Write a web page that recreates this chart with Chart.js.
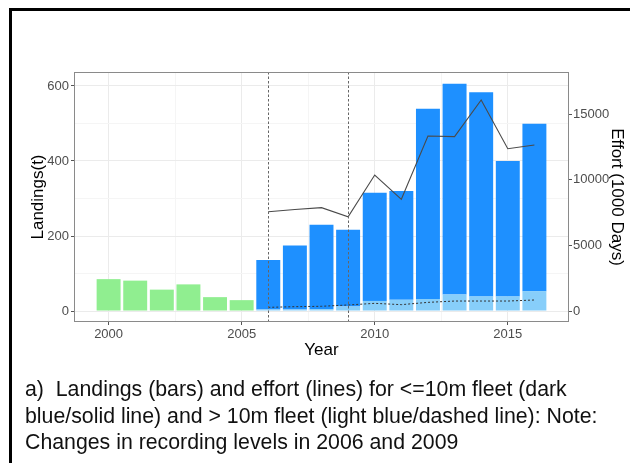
<!DOCTYPE html>
<html>
<head>
<meta charset="utf-8">
<script src="https://cdn.jsdelivr.net/npm/chart.js@4.4.1/dist/chart.umd.min.js"></script>
<style>
  html, body { margin: 0; padding: 0; background: #fff; }
  #wrap { position: relative; width: 630px; height: 463px; overflow: hidden; }
  #frame { position: absolute; left: 9px; top: 8px; width: 700px; height: 500px;
           border-left: 3px solid #000; border-top: 3px solid #000; }
  #chartBox { position: absolute; left: 0; top: 0; width: 630px; height: 463px; }
  #caption { position: absolute; left: 25px; top: 376px; font-family: "Liberation Sans", Arial, sans-serif;
             font-size: 21.3px; line-height: 26.7px; color: #111; white-space: pre; }
</style>
</head>
<body>
<div id="wrap">
  <div id="frame"></div>
  <div id="chartBox"><canvas id="chart" width="630" height="463"></canvas></div>
  <div id="caption">a)  Landings (bars) and effort (lines) for &lt;=10m fleet (dark
blue/solid line) and &gt; 10m fleet (light blue/dashed line): Note:
Changes in recording levels in 2006 and 2009</div>
</div>
<script>
// landings before the fleet split
const preYears = [2000, 2001, 2002, 2003, 2004, 2005];
const preLandings = [85, 81, 57, 71, 37, 29];

// fleet split from 2006
const fleetYears = [2006, 2007, 2008, 2009, 2010, 2011, 2012, 2013, 2014, 2015, 2016];
const over10Landings = [4, 4, 5, 12, 27, 30, 32, 44, 39, 39, 53];
const under10Landings = [132, 171, 225, 205, 288, 290, 507, 562, 544, 361, 446];
const under10Effort = [7570, 7740, 7880, 7180, 10370, 8520, 13350, 13300, 16090, 12380, 12660];
const over10Effort = [280, 330, 360, 460, 585, 485, 660, 760, 760, 760, 840];

const changeYears = [2006, 2009];

// axis ticks
const xMajorTicks = [2000, 2005, 2010, 2015];
const xMinorTicks = [2002.5, 2007.5, 2012.5];
const yMajorTicks = [0, 200, 400, 600];
const yMinorTicks = [100, 300, 500];
const y2Ticks = [0, 5000, 10000, 15000];

const toPoints = (xs, ys) => xs.map((x, i) => ({ x: x, y: ys[i] }));
const isIn = (list, c) => !!(c.tick && list.includes(c.tick.value));

const tickFont = { family: 'Liberation Sans, Arial, sans-serif', size: 13 };
const titleFont = { family: 'Liberation Sans, Arial, sans-serif', size: 17 };

// panel border + change-year reference lines
const panelPlugin = {
    id: 'panel',
    afterDatasetsDraw(chart) {
        const ctx = chart.ctx;
        const area = chart.chartArea;
        const x = chart.scales.x;
        ctx.save();
        ctx.strokeStyle = '#666';
        ctx.lineWidth = 1;
        ctx.setLineDash([2.5, 2]);
        changeYears.forEach(yr => {
            const px = Math.round(x.getPixelForValue(yr)) + 0.5;
            ctx.beginPath();
            ctx.moveTo(px, area.top);
            ctx.lineTo(px, area.bottom);
            ctx.stroke();
        });
        ctx.setLineDash([]);
        ctx.strokeStyle = '#8a8a8a';
        ctx.strokeRect(area.left + 0.5, area.top + 0.5, area.right - area.left - 1, area.bottom - area.top - 1);
        ctx.restore();
    }
};

new Chart(document.getElementById('chart'), {
    type: 'bar',
    data: {
        datasets: [
            {
                type: 'line',
                label: '<=10m effort',
                data: toPoints(fleetYears, under10Effort),
                yAxisID: 'y2',
                borderColor: '#4a4a4a',
                borderWidth: 1.1,
                pointRadius: 0,
                fill: false,
                tension: 0,
                order: 0
            },
            {
                type: 'line',
                label: '>10m effort',
                data: toPoints(fleetYears, over10Effort),
                yAxisID: 'y2',
                borderColor: '#333',
                borderWidth: 1,
                borderDash: [2, 2],
                pointRadius: 0,
                fill: false,
                tension: 0,
                order: 0
            },
            {
                label: 'Landings',
                data: toPoints(preYears, preLandings),
                backgroundColor: '#90EE90',
                yAxisID: 'y',
                order: 1
            },
            {
                label: '>10m landings',
                data: toPoints(fleetYears, over10Landings),
                backgroundColor: '#87CEFA',
                yAxisID: 'y',
                order: 1
            },
            {
                label: '<=10m landings',
                data: toPoints(fleetYears, under10Landings),
                backgroundColor: '#1E90FF',
                yAxisID: 'y',
                order: 1
            }
        ]
    },
    options: {
        responsive: false,
        animation: false,
        barPercentage: 0.9,
        categoryPercentage: 1,
        layout: { padding: { left: 28, right: 3, top: 72, bottom: 102 } },
        plugins: {
            legend: { display: false },
            tooltip: { enabled: false }
        },
        scales: {
            x: {
                type: 'linear',
                min: 1998.7,
                max: 2017.3,
                offset: false,
                stacked: true,
                afterBuildTicks: scale => {
                    scale.ticks = xMajorTicks.concat(xMinorTicks).sort((a, b) => a - b).map(v => ({ value: v }));
                },
                afterFit: scale => { scale.height = 39; },
                ticks: {
                    autoSkip: false,
                    maxRotation: 0,
                    padding: 2,
                    color: '#4D4D4D',
                    font: tickFont,
                    callback: value => xMajorTicks.includes(value) ? String(value) : ''
                },
                grid: {
                    offset: false,
                    color: c => isIn(xMajorTicks, c) ? '#EBEBEB' : '#F5F5F5',
                    tickColor: c => isIn(xMajorTicks, c) ? '#555' : 'rgba(0,0,0,0)',
                    tickLength: 3
                },
                border: { display: false },
                title: { display: true, text: 'Year', color: '#000', font: titleFont, padding: 0 }
            },
            y: {
                type: 'linear',
                position: 'left',
                min: -29.3,
                max: 637.3,
                stacked: true,
                afterBuildTicks: scale => {
                    scale.ticks = yMajorTicks.concat(yMinorTicks).sort((a, b) => a - b).map(v => ({ value: v }));
                },
                afterFit: scale => { scale.width = 46; },
                ticks: {
                    padding: 2,
                    color: '#4D4D4D',
                    font: tickFont,
                    callback: value => yMajorTicks.includes(value) ? String(value) : ''
                },
                grid: {
                    color: c => isIn(yMajorTicks, c) ? '#EBEBEB' : '#F5F5F5',
                    tickColor: c => isIn(yMajorTicks, c) ? '#555' : 'rgba(0,0,0,0)',
                    tickLength: 3
                },
                border: { display: false },
                title: { display: true, text: 'Landings(t)', color: '#000', font: titleFont, padding: 0 }
            },
            y2: {
                type: 'linear',
                position: 'right',
                min: -838,
                max: 18227,
                afterBuildTicks: scale => {
                    scale.ticks = y2Ticks.map(v => ({ value: v }));
                },
                afterFit: scale => { scale.width = 58; },
                ticks: {
                    padding: 1,
                    color: '#4D4D4D',
                    font: tickFont,
                    callback: value => String(value)
                },
                grid: {
                    drawOnChartArea: false,
                    tickColor: '#555',
                    tickLength: 3
                },
                border: { display: false },
                title: { display: true, text: 'Effort (1000 Days)', color: '#000', font: titleFont, padding: 0 }
            }
        }
    },
    plugins: [panelPlugin]
});
</script>
</body>
</html>
